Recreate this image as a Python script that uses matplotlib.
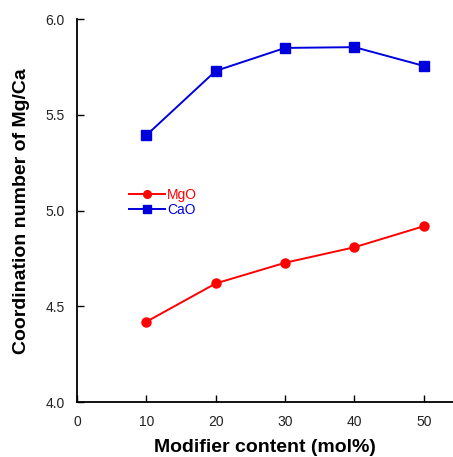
import matplotlib.pyplot as plt

plt.rcParams['font.family'] = ['Liberation Sans', 'DejaVu Sans']

content = [10, 20, 30, 40, 50]
mgo = [4.42, 4.62, 4.728, 4.809, 4.919]
cao = [5.394, 5.73, 5.85, 5.854, 5.756]

fig = plt.figure(figsize=(4.53, 4.57), dpi=100)
ax = fig.add_axes([0.170, 0.120, 0.830, 0.838])

ax.plot(content, mgo, color='#ff0000', marker='o', markersize=6.5, lw=1.4, label='MgO')
ax.plot(content, cao, color='#0000dd', marker='s', markersize=6.5, lw=1.4, label='CaO')

ax.set_xlim(0, 54.2)
ax.set_ylim(4.0, 6.0)
ax.set_xticks([0, 10, 20, 30, 40, 50])
ax.set_yticks([4.0, 4.5, 5.0, 5.5, 6.0])
ax.set_yticklabels(['4.0', '4.5', '5.0', '5.5', '6.0'])
ax.tick_params(labelsize=10, direction='in', length=5, width=1, labelcolor='#222222')
ax.tick_params(axis='x', pad=9)
ax.tick_params(axis='y', pad=9)

for s in ['top', 'right']:
    ax.spines[s].set_visible(False)
for s in ['left', 'bottom']:
    ax.spines[s].set_linewidth(1.3)

ax.set_xlabel('Modifier content (mol%)', fontsize=14, fontweight='bold')
ax.set_ylabel('Coordination number of Mg/Ca', fontsize=14, fontweight='bold')
ax.xaxis.set_label_coords(0.5, -0.095)
ax.yaxis.set_label_coords(-0.125, 0.5)

leg = ax.legend(loc='upper left', bbox_to_anchor=(0.105, 0.592), frameon=False,
                fontsize=10, handlelength=2.6, handletextpad=0.15, labelspacing=0.05,
                markerscale=0.85)
for txt, c in zip(leg.get_texts(), ['#ff0000', '#0000dd']):
    txt.set_color(c)

fig.savefig('out.png', dpi=100)
